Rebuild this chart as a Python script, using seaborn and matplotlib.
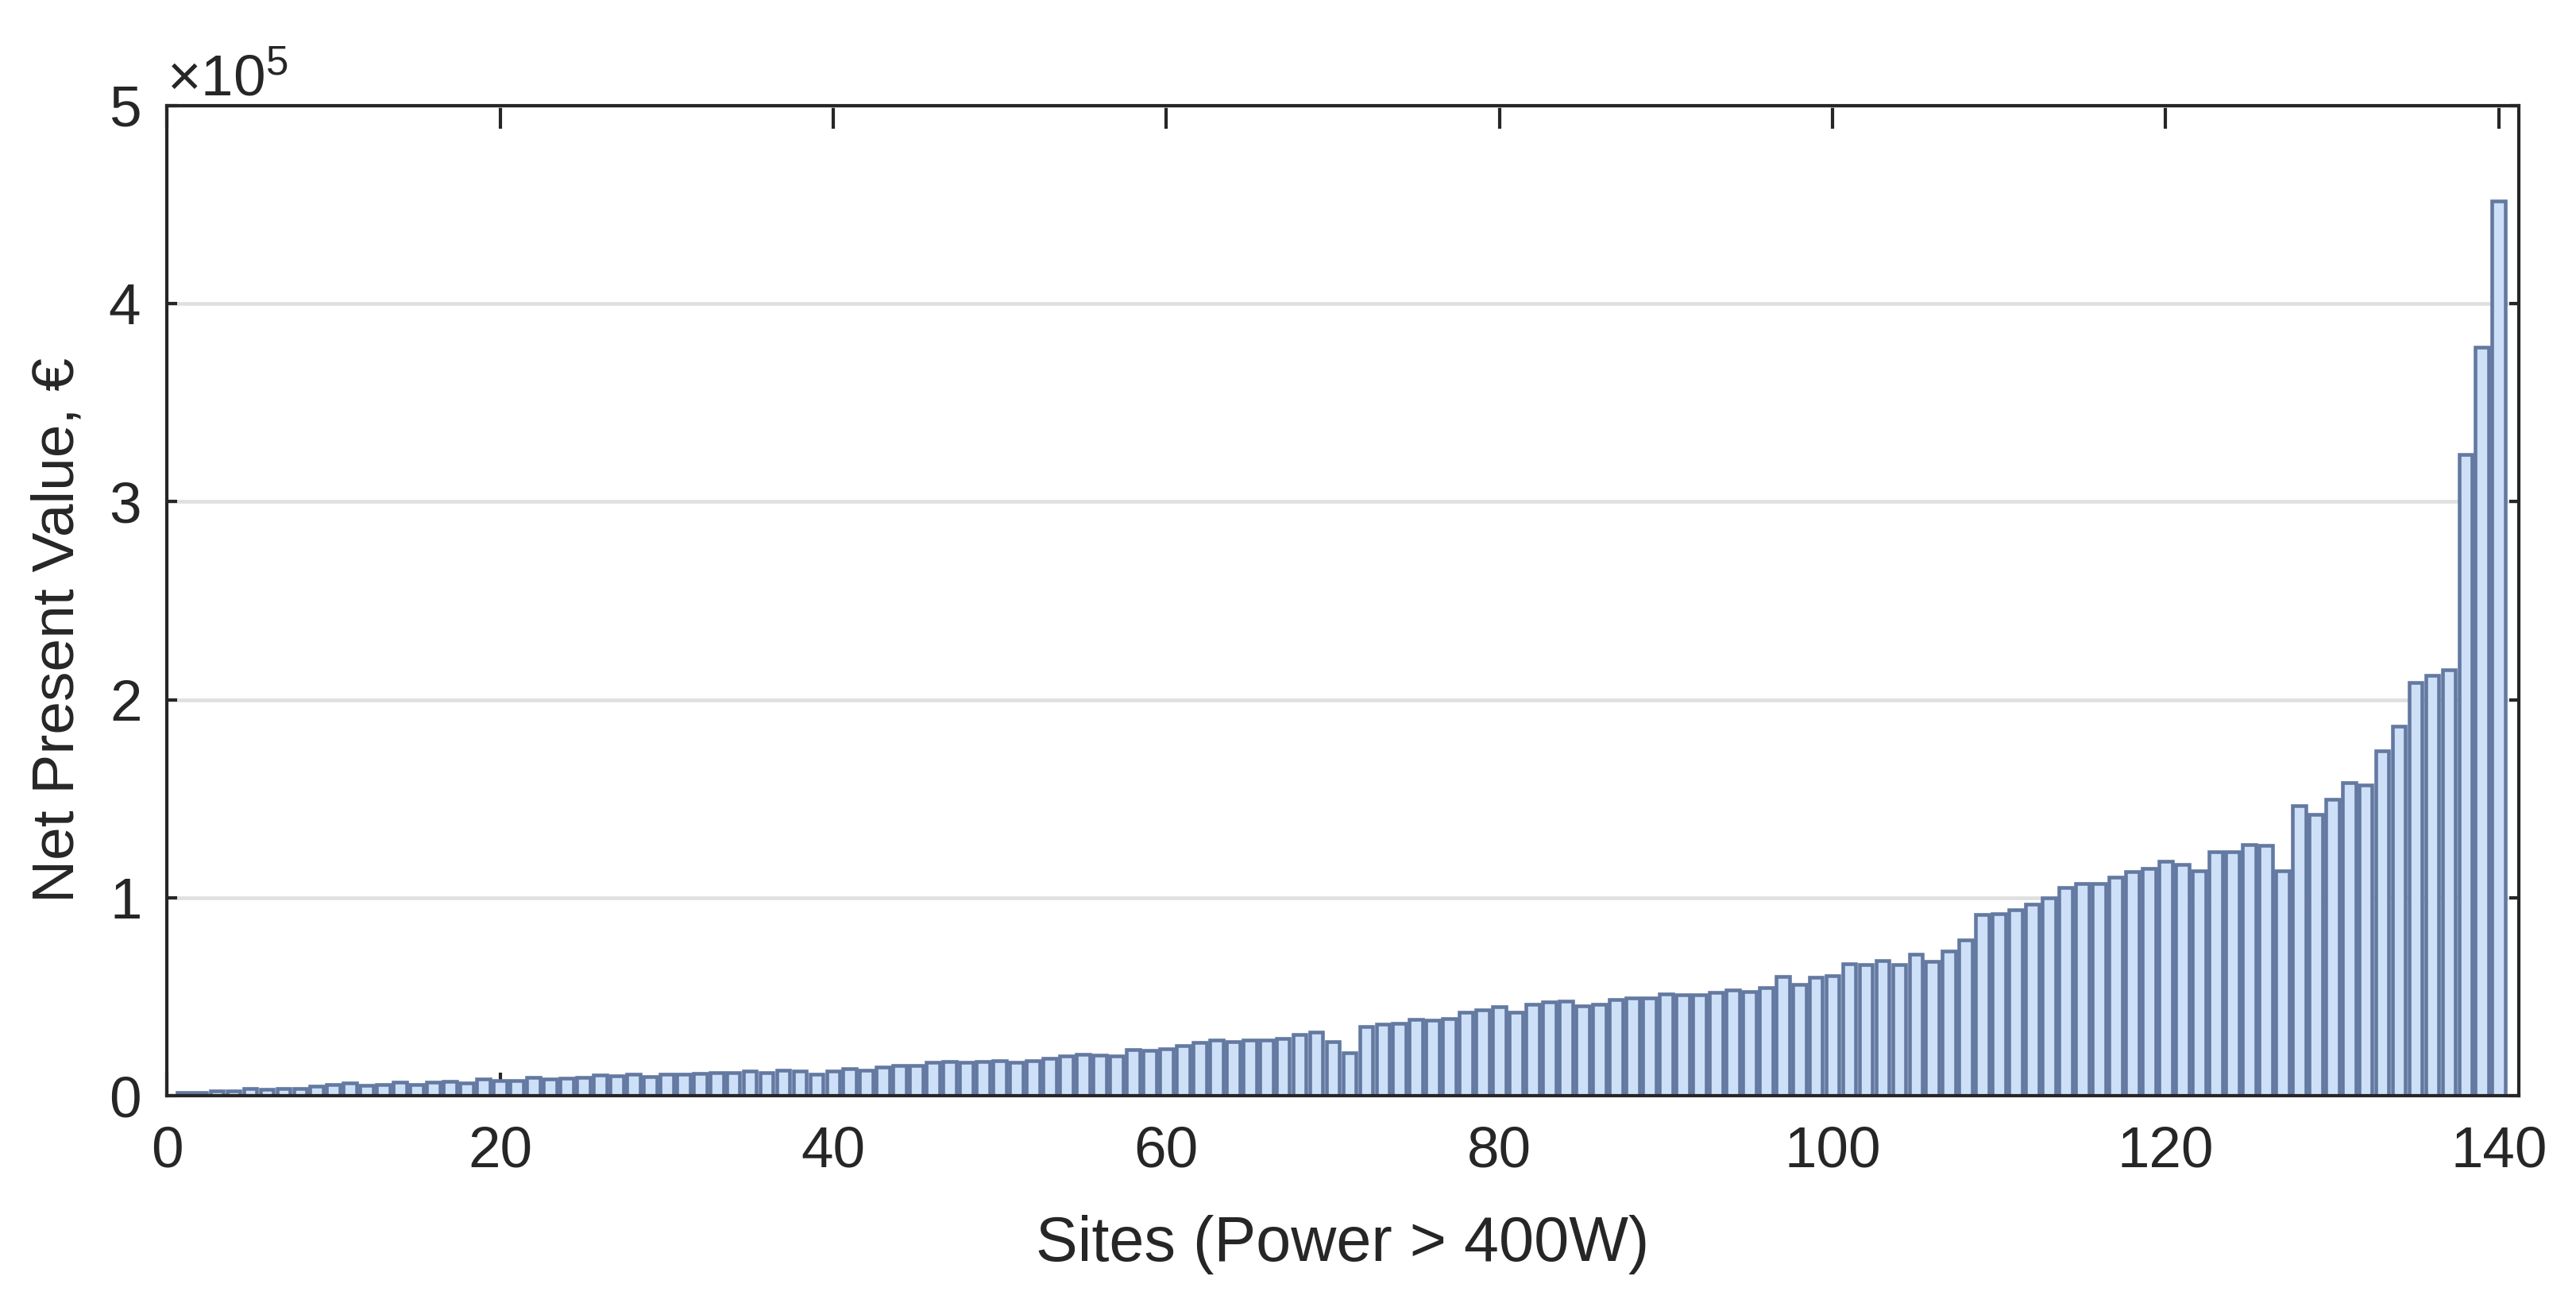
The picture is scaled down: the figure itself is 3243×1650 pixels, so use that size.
import numpy as np
import pandas as pd
import matplotlib
matplotlib.use("Agg")
import matplotlib.pyplot as plt
import matplotlib.ticker as mticker
import seaborn as sns

# Net present value per site (EUR), sites sorted by NPV
sites = list(range(1, 141))
npv = [
    1600, 1600, 2400, 2400, 3600, 3200, 3600, 3600, 4800, 5600,
    6400, 5200, 5600, 6800, 5600, 6800, 7200, 6400, 8400, 7600,
    7600, 9200, 8400, 8800, 9200, 10400, 10000, 10800, 9600, 10800,
    10800, 11200, 11600, 11600, 12400, 11600, 12800, 12400, 10800, 12400,
    13600, 12800, 14400, 15200, 15200, 16800, 17200, 16800, 17200, 17600,
    16800, 17600, 18800, 20000, 20800, 20400, 20000, 23200, 22800, 23600,
    25200, 26800, 28000, 27200, 28000, 28000, 28800, 30800, 32000, 27200,
    21600, 34800, 36000, 36400, 38400, 38000, 38800, 42000, 43300, 44900,
    42000, 46100, 47300, 47700, 45300, 46100, 48500, 49300, 49300, 51300,
    50900, 50900, 52100, 53300, 52500, 54500, 60100, 56400, 59700, 60500,
    66600, 66200, 68100, 66200, 71400, 67700, 72900, 78600, 91400, 91800,
    93800, 96600, 99800, 105000, 107000, 107000, 110200, 113200, 114800, 118200,
    116600, 113400, 123400, 123100, 127000, 126300, 113400, 146300, 141900, 149700,
    158000, 157000, 174300, 186700, 208700, 212300, 215300, 323700, 378000, 452000,
]

df = pd.DataFrame({"site": sites, "npv": npv})

sns.set_style("ticks")
plt.rcParams["font.family"] = ["Liberation Sans", "DejaVu Sans"]
plt.rcParams["mathtext.fontset"] = "custom"
plt.rcParams["mathtext.rm"] = "Liberation Sans"
plt.rcParams["mathtext.it"] = "Liberation Sans:italic"

text_col = "#262626"
fig = plt.figure(figsize=(10.81, 5.5), dpi=300)
ax = fig.add_axes([0.0648, 0.1642, 0.9130, 0.7552])

ax.yaxis.grid(True, color="#dfdfdf", linewidth=1.1, zorder=0)
ax.set_axisbelow(True)

sns.barplot(data=df, x="site", y="npv", native_scale=True, width=0.8,
            color="#cde0f7", edgecolor="#6479a1", linewidth=1.1,
            saturation=1, errorbar=None, ax=ax, zorder=2)

ax.set_xlim(0, 141.2)
ax.set_ylim(0, 5e5)
ax.set_xticks(range(0, 141, 20))
ax.set_yticks(np.arange(0, 5.01e5, 1e5))

fmt = mticker.ScalarFormatter(useMathText=True)
fmt.set_powerlimits((0, 0))
ax.yaxis.set_major_formatter(fmt)
ax.yaxis.get_offset_text().set_fontsize(17.5)
ax.yaxis.get_offset_text().set_color(text_col)

for s in ax.spines.values():
    s.set_visible(True)
    s.set_linewidth(1.0)
    s.set_color(text_col)

ax.tick_params(axis="x", direction="in", top=True, bottom=True, length=7,
               width=1.0, labelsize=17.5, pad=9, colors=text_col)
ax.tick_params(axis="y", direction="in", left=True, right=True, length=3,
               width=1.0, labelsize=17.5, pad=8, colors=text_col)

ax.set_xlabel("Sites (Power > 400W)", fontsize=19, color=text_col, labelpad=11)
ax.set_ylabel("Net Present Value, €", fontsize=18, color=text_col, labelpad=7)
ax.yaxis.label.set_y(0.47)

fig.savefig("out.png", dpi=300)
